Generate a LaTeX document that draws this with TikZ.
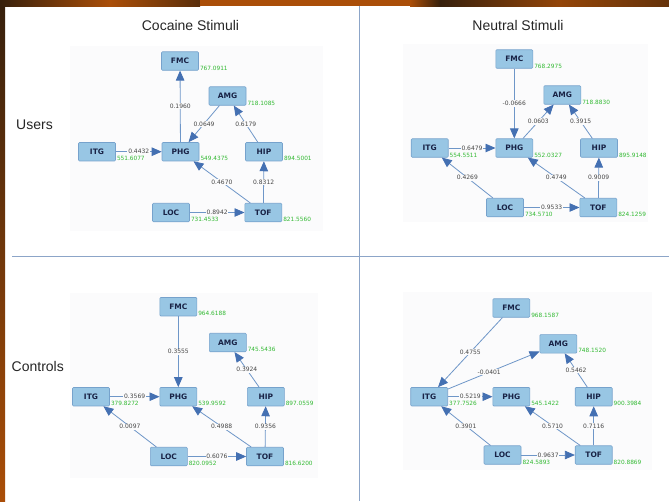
\documentclass[tikz,border=0pt]{standalone}
\usepackage{fontspec}
\setmainfont{Liberation Sans}
\newfontfamily\dv{DejaVu Sans}
\usetikzlibrary{arrows.meta}
\definecolor{boxfill}{RGB}{152,198,228}
\definecolor{boxdraw}{RGB}{118,162,204}
\definecolor{boxtext}{RGB}{25,35,70}
\definecolor{valgreen}{RGB}{50,185,50}
\definecolor{labgray}{RGB}{70,70,70}
\definecolor{edgecol}{RGB}{110,150,200}
\definecolor{tipcol}{RGB}{68,112,178}
\definecolor{divcol}{RGB}{140,165,200}
\definecolor{panelbg}{RGB}{251,251,252}
\definecolor{darkbrown}{RGB}{55,32,12}
\definecolor{orangebr}{RGB}{170,78,8}
\tikzset{
  nbox/.style={draw=boxdraw, fill=boxfill, line width=0.6pt, rounded corners=1pt,
    minimum width=37pt, minimum height=18.5pt, inner sep=0pt,
    font=\dv\fontsize{7.5}{8}\selectfont\bfseries, text=boxtext},
  valstyle/.style={anchor=west, inner sep=0pt, xshift=1pt, yshift=2.6pt,
    font=\dv\fontsize{5.8}{6}\selectfont, text=valgreen},
  edge/.style={draw=edgecol, line width=0.8pt, -{Triangle[length=10pt,width=8.5pt,color=tipcol,fill=tipcol]}},
  elab/.style={fill=panelbg, inner sep=0.8pt, font=\dv\fontsize{6}{6}\selectfont, text=labgray},
  titlestyle/.style={font=\fontsize{14}{16}\selectfont, text=black!85, inner sep=0pt},
}
\newcommand{\regnode}[5]{%
  \node[nbox] (#1) at (#2,#3) {#4};
  \node[valstyle] (#1v) at (#1.south east) {#5};}
\begin{document}
\begin{tikzpicture}[x=1pt,y=-1pt]
\useasboundingbox (0,0) rectangle (669,501);
\fill[white] (0,0) rectangle (669,501);
% top band
\shade[left color=darkbrown, right color=orangebr] (0,0) rectangle (110,6);
\shade[left color=orangebr, right color=darkbrown!70!orangebr] (110,0) rectangle (200,6);
\fill[orangebr] (200,0) rectangle (410,6);
\shade[left color=orangebr, right color=darkbrown] (410,0) rectangle (440,6);
\shade[left color=darkbrown, right color=orangebr!80!darkbrown] (440,0) rectangle (560,6);
\shade[left color=orangebr!80!darkbrown, right color=darkbrown!60!orangebr] (560,0) rectangle (669,6);
% left strip
\shade[top color=darkbrown, bottom color=orangebr] (0,6) rectangle (5,501);
% panel backgrounds
\fill[panelbg] (70,46) rectangle (323,231);
\fill[panelbg] (403,44) rectangle (648,222);
\fill[panelbg] (70,293) rectangle (318,478);
\fill[panelbg] (403,292) rectangle (652,470);
% dividers
\draw[divcol, line width=1pt] (359.5,6) -- (359.5,501);
\draw[divcol, line width=1pt] (12,256) -- (669,256);
% titles
\node[titlestyle] (t1) at (190.5,25) {Cocaine Stimuli};
\node[titlestyle] (t2) at (518,25) {Neutral Stimuli};
\node[titlestyle, anchor=west] (t3) at (16,125) {Users};
\node[titlestyle, anchor=west] (t4) at (11.5,366) {Controls};

% ---------- Q1 ----------
\regnode{aF}{180}{61}{FMC}{767.0911}
\regnode{aA}{227.5}{96}{AMG}{718.1085}
\regnode{aI}{97}{151.7}{ITG}{551.6077}
\regnode{aP}{180.5}{151.7}{PHG}{549.4375}
\regnode{aH}{264}{151.7}{HIP}{894.5001}
\regnode{aL}{171}{212.5}{LOC}{731.4533}
\regnode{aT}{263.3}{212.5}{TOF}{821.5560}
\draw[edge] (aP) -- node[elab] (aE1) {0.1960} (aF);
\draw[edge] (aA) -- node[elab] (aE2) {0.0649} (aP);
\draw[edge] (aH) -- node[elab] (aE3) {0.6179} (aA);
\draw[edge] (aI) -- node[elab] (aE4) {0.4432} (aP);
\draw[edge] (aT) -- node[elab] (aE5) {0.4670} (aP);
\draw[edge] (aT) -- node[elab] (aE6) {0.8312} (aH);
\draw[edge] (aL) -- node[elab] (aE7) {0.8942} (aT);

% ---------- Q2 ----------
\regnode{bF}{514.3}{59}{FMC}{768.2975}
\regnode{bA}{562.3}{95}{AMG}{718.8830}
\regnode{bI}{429.7}{148}{ITG}{554.5511}
\regnode{bP}{514.3}{148}{PHG}{552.0327}
\regnode{bH}{599}{148}{HIP}{895.9148}
\regnode{bL}{505}{207.5}{LOC}{734.5710}
\regnode{bT}{598.3}{207.5}{TOF}{824.1259}
\draw[edge] (bF) -- node[elab] (bE1) {-0.0666} (bP);
\draw[edge] (bP) -- node[elab] (bE2) {0.0603} (bA);
\draw[edge] (bH) -- node[elab] (bE3) {0.3915} (bA);
\draw[edge] (bI) -- node[elab] (bE4) {0.6479} (bP);
\draw[edge] (bL) -- node[elab] (bE5) {0.4269} (bI);
\draw[edge] (bT) -- node[elab] (bE6) {0.4749} (bP);
\draw[edge] (bT) -- node[elab] (bE7) {0.9009} (bH);
\draw[edge] (bL) -- node[elab] (bE8) {0.9533} (bT);

% ---------- Q3 ----------
\regnode{cF}{178.3}{306.7}{FMC}{964.6188}
\regnode{cA}{227.8}{342.5}{AMG}{745.5436}
\regnode{cI}{91}{396.7}{ITG}{379.8272}
\regnode{cP}{178.3}{396.7}{PHG}{539.9592}
\regnode{cH}{265.8}{396.7}{HIP}{897.0559}
\regnode{cL}{168.8}{456.5}{LOC}{820.0952}
\regnode{cT}{265}{456.5}{TOF}{816.6200}
\draw[edge] (cF) -- node[elab] (cE1) {0.3555} (cP);
\draw[edge] (cH) -- node[elab] (cE2) {0.3924} (cA);
\draw[edge] (cI) -- node[elab] (cE3) {0.3569} (cP);
\draw[edge] (cL) -- node[elab] (cE4) {0.0097} (cI);
\draw[edge] (cT) -- node[elab] (cE5) {0.4988} (cP);
\draw[edge] (cT) -- node[elab] (cE6) {0.9356} (cH);
\draw[edge] (cL) -- node[elab] (cE7) {0.6076} (cT);

% ---------- Q4 ----------
\regnode{dF}{511.3}{308}{FMC}{968.1587}
\regnode{dA}{558.3}{343.8}{AMG}{748.1520}
\regnode{dI}{429.2}{396.7}{ITG}{377.7526}
\regnode{dP}{511.3}{396.7}{PHG}{545.1422}
\regnode{dH}{593.7}{396.7}{HIP}{900.3984}
\regnode{dL}{502.5}{455}{LOC}{824.5893}
\regnode{dT}{593.7}{455}{TOF}{820.8869}
\draw[edge] (dF) -- node[elab] (dE1) {0.4755} (dI);
\draw[edge] (dI) -- node[elab, pos=0.45] (dE2) {-0.0401} (dA);
\draw[edge] (dH) -- node[elab] (dE3) {0.5462} (dA);
\draw[edge] (dI) -- node[elab] (dE4) {0.5219} (dP);
\draw[edge] (dL) -- node[elab] (dE5) {0.3901} (dI);
\draw[edge] (dT) -- node[elab] (dE6) {0.5710} (dP);
\draw[edge] (dT) -- node[elab] (dE7) {0.7116} (dH);
\draw[edge] (dL) -- node[elab] (dE8) {0.9637} (dT);
\end{tikzpicture}
\end{document}
